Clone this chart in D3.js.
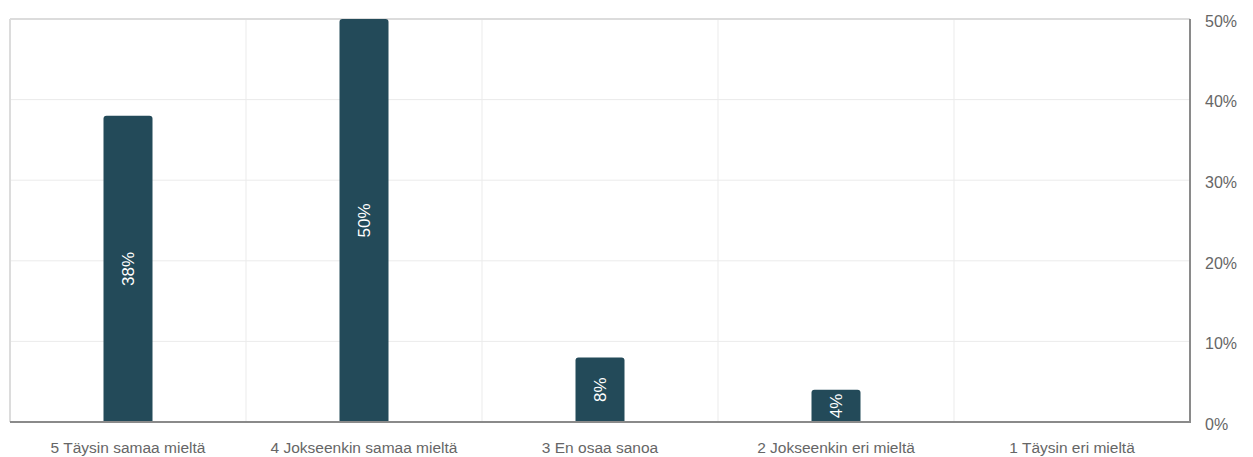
<!DOCTYPE html>
<html>
<head>
<meta charset="utf-8">
<script src="https://cdn.jsdelivr.net/npm/d3@7"></script>
<style>
  body { margin: 0; background: #fff; }
  text { font-family: "Liberation Sans", Arial, sans-serif; }
</style>
</head>
<body>
<div id="main"></div>
<script>
const categories = ["5 Täysin samaa mieltä", "4 Jokseenkin samaa mieltä", "3 En osaa sanoa", "2 Jokseenkin eri mieltä", "1 Täysin eri mieltä"];
const values = [38, 50, 8, 4, 0];
const yTicks = [0, 10, 20, 30, 40, 50];

const W = 1253, H = 457;
const margin = { top: 19, right: 63, bottom: 35, left: 10 };
const width = W - margin.left - margin.right;
const height = H - margin.top - margin.bottom;

const svg = d3.select("#main").append("svg")
    .attr("width", W)
    .attr("height", H);

const g = svg.append("g")
    .attr("transform", `translate(${margin.left},${margin.top})`);

const x = d3.scaleBand()
    .domain(categories)
    .range([0, width]);

const y = d3.scaleLinear()
    .domain([0, 50])
    .range([height, 0]);

// horizontal grid
g.selectAll(".hgrid")
    .data(yTicks.slice(1, -1))
    .join("line")
    .attr("x1", 0).attr("x2", width)
    .attr("y1", d => y(d)).attr("y2", d => y(d))
    .attr("stroke", "#ebebeb");

// vertical grid between categories
g.selectAll(".vgrid")
    .data(categories.slice(1))
    .join("line")
    .attr("x1", d => x(d)).attr("x2", d => x(d))
    .attr("y1", 0).attr("y2", height)
    .attr("stroke", "#ebebeb");

// top and left frame
g.append("line").attr("x1", 0).attr("x2", width).attr("y1", 0).attr("y2", 0)
    .attr("stroke", "#dcdcdc").attr("stroke-width", 2);
g.append("line").attr("x1", 0).attr("x2", 0).attr("y1", 0).attr("y2", height)
    .attr("stroke", "#dcdcdc").attr("stroke-width", 2);

// bars with rounded tops
const barW = 49;
const r = 3;
function barPath(d, i) {
    const cx = x(categories[i]) + x.bandwidth() / 2;
    const x0 = cx - barW / 2, x1 = cx + barW / 2;
    const y0 = y(d), yb = y(0);
    if (yb - y0 < r) return `M${x0},${yb}V${y0}H${x1}V${yb}Z`;
    return `M${x0},${yb}V${y0 + r}Q${x0},${y0} ${x0 + r},${y0}H${x1 - r}Q${x1},${y0} ${x1},${y0 + r}V${yb}Z`;
}
g.selectAll(".bar")
    .data(values)
    .join("path")
    .attr("d", (d, i) => barPath(d, i))
    .attr("fill", "#234a59")
    .style("display", d => d > 0 ? null : "none");

// value labels rotated in bars
const labelData = values.map((v, i) => ({ cat: categories[i], v })).filter(d => d.v > 0);
g.selectAll(".lbl")
    .data(labelData)
    .join("text")
    .attr("transform", d => {
        const cx = x(d.cat) + x.bandwidth() / 2;
        const cy = (y(d.v) + y(0)) / 2;
        return `translate(${cx},${cy}) rotate(-90)`;
    })
    .attr("text-anchor", "middle")
    .attr("dy", "0.35em")
    .attr("fill", "#ffffff")
    .style("font-size", "17px")
    .text(d => d.v + "%");

// right and bottom axis lines
g.append("line").attr("x1", width).attr("x2", width).attr("y1", 0).attr("y2", height)
    .attr("stroke", "#8a8a8a").attr("stroke-width", 2);
g.append("line").attr("x1", 0).attr("x2", width + 1).attr("y1", height).attr("y2", height)
    .attr("stroke", "#8a8a8a").attr("stroke-width", 2);

// Y axis labels on the right
const yAxis = g.append("g")
    .attr("transform", `translate(${width},0)`)
    .call(d3.axisRight(y).tickValues(yTicks).tickFormat(d => d + "%").tickSize(0).tickPadding(15));
yAxis.select(".domain").remove();
yAxis.selectAll("text")
    .attr("fill", "#666")
    .attr("dy", "0.45em")
    .style("font-size", "16px")
    .style("font-family", "'Liberation Sans', Arial, sans-serif");

// X axis labels
const xAxis = g.append("g")
    .attr("transform", `translate(0,${height})`)
    .call(d3.axisBottom(x).tickSize(0).tickPadding(20));
xAxis.select(".domain").remove();
xAxis.selectAll("text")
    .attr("fill", "#666")
    .style("font-size", "15.5px")
    .style("font-family", "'Liberation Sans', Arial, sans-serif");
</script>
</body>
</html>
